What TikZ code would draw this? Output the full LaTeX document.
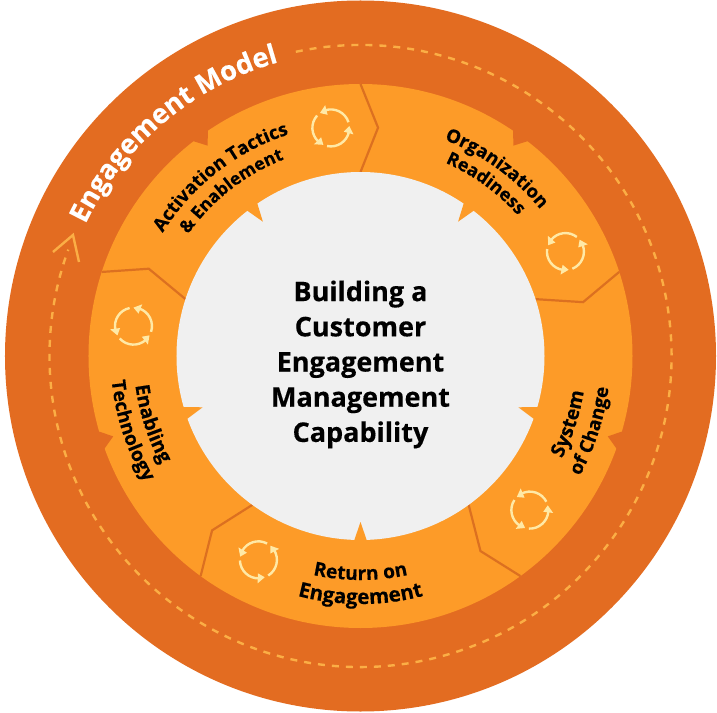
\documentclass[tikz,border=0pt]{standalone}
\usepackage{fontspec}
\setmainfont[BoldFeatures={FakeBold=0.35}]{Open Sans}
\usetikzlibrary{decorations.text,arrows.meta}
\definecolor{outerring}{HTML}{E36C21}
\definecolor{midring}{HTML}{FD9B28}
\definecolor{divline}{HTML}{DC7020}
\definecolor{greydisc}{HTML}{F0F0F0}
\definecolor{dashcol}{HTML}{FBAE45}
\definecolor{iconcol}{HTML}{FFE9A6}
\newcommand{\curvetext}[6]{% radius, start, end, size, colour, text
  \path[decorate,decoration={text along path,text align={center},
    text={|\fontsize{#4}{#4}\selectfont\bfseries\color{#5}|#6}}]
    (#2:#1) arc[start angle=#2,end angle=#3,radius=#1];}
\newcommand{\cycleicon}[3]{% position angle, position radius, angle of first arrow tip
  \begin{scope}[shift={(#1:#2)},rotate=#3]
    \foreach \a in {0,120,240}{
      \draw[iconarc] (\a-108:18.5) arc[start angle=\a-108,end angle=\a-18,radius=18.5];
      \fill[iconcol] (\a:18.5) -- (\a-22:13.5) -- (\a-22:23.5) -- cycle;
    }
  \end{scope}}
\newcommand{\divider}[1]{%
  \draw[divstyle] (#1:272) -- (#1-4.4:229) -- (#1:184);}
\newcommand{\outernotch}[1]{%
  \fill[outerring] (#1+2:273) -- (#1:260) -- (#1-2:273) -- cycle;}
\newcommand{\innernotch}[1]{%
  \fill[midring] (#1+2:185) -- (#1:166) -- (#1-2:185) -- cycle;}
\tikzset{
  iconarc/.style={iconcol,line width=2.4pt},
  divstyle/.style={divline,line width=2.2pt},
  dashring/.style={dashcol,line width=2.4pt,dash pattern=on 7pt off 7pt}
}
\begin{document}
\begin{tikzpicture}[x=1pt,y=1pt]
\useasboundingbox (-360.5,-356) rectangle (356.5,356);
\fill[white] (-360.5,-356) rectangle (356.5,356);
\fill[outerring] (0,0) circle[radius=355.5];
\fill[midring] (0,0) circle[radius=272];
\foreach \n in {126,54,-18,198}{\outernotch{\n}}
\foreach \d in {90,18,-54,-126,162}{\divider{\d}}
\fill[greydisc] (0,0) circle[radius=184];
\foreach \n in {126,54,-18,-90,198}{\innernotch{\n}}
\coordinate (dashstart) at (102:311);
\coordinate (wingA) at (-307.5,104);
\coordinate (tipA) at (-287.5,121);
\coordinate (wingB) at (-281.5,94);
\draw[dashring] (dashstart) arc[start angle=102,end angle=-200,radius=311];
\draw[dashcol,line width=2.4pt,line join=miter] (wingA) -- (tipA) -- (wingB);
\cycleicon{97.4}{230}{6}
\cycleicon{27}{230}{40}
\cycleicon{-42.3}{229}{15}
\cycleicon{-116.6}{228}{50}
\cycleicon{172.5}{229}{90}
\curvetext{305}{155}{105}{27.2}{white}{Engagement Model}
\curvetext{233}{152}{104}{18.5}{black}{Activation Tactics}
\curvetext{211}{152}{104}{17.6}{black}{{\&} Enablement}
\curvetext{232}{74}{34}{18.5}{black}{Organization}
\curvetext{211}{74}{34}{18}{black}{Readiness}
\curvetext{226}{-38}{2}{19.5}{black}{System}
\curvetext{250}{-38}{2}{18.8}{black}{of Change}
\curvetext{224}{-115}{-65}{19.2}{black}{Return on}
\curvetext{248}{-115}{-65}{20.5}{black}{Engagement}
\curvetext{227}{178}{218}{19.5}{black}{Enabling}
\curvetext{250}{178}{218}{19}{black}{Technology}
\node[align=center,font=\bfseries\fontsize{27}{35.2}\selectfont,text=black] (title) at (0,-8.5)
 {Building a\\Customer\\Engagement\\Management\\Capability};
\end{tikzpicture}
\end{document}
